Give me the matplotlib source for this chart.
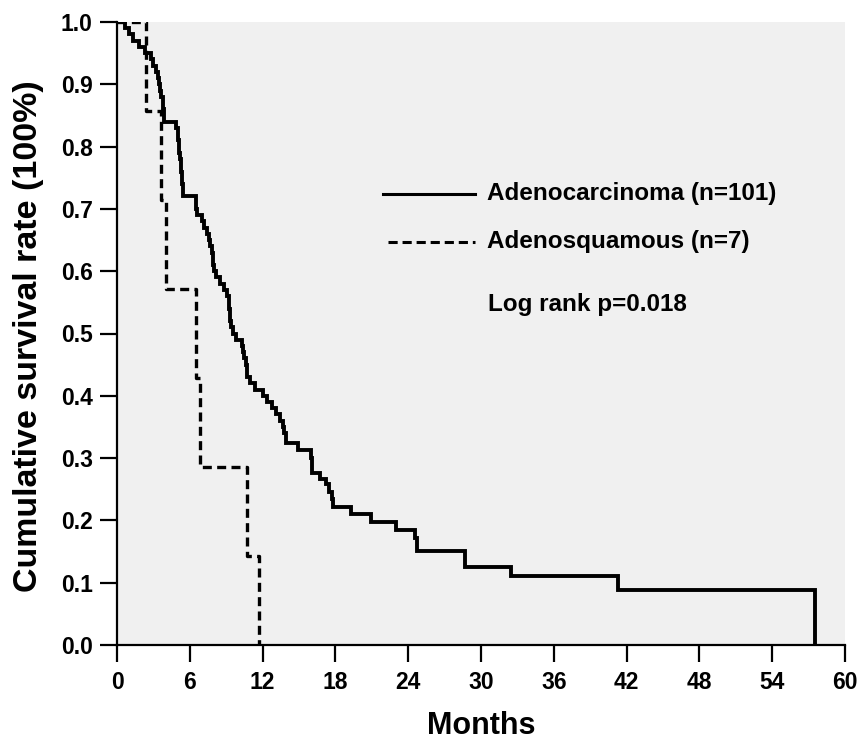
import matplotlib
matplotlib.use("Agg")
import matplotlib.pyplot as plt
import numpy as np

plt.rcParams["font.family"] = ["Liberation Sans", "DejaVu Sans"]
plt.rcParams["font.weight"] = "bold"

# Kaplan-Meier steps (months, survival after the event)
adeno_months = [0.7, 1.0, 1.3, 1.8, 2.3, 2.8, 3.0, 3.2, 3.35, 3.45, 3.55, 3.65,
                3.75, 3.8, 3.85, 3.9, 4.9, 5.0, 5.05, 5.1, 5.15, 5.2, 5.25, 5.3,
                5.33, 5.36, 5.4, 5.45, 6.5, 6.55, 6.6, 7.0, 7.2, 7.4, 7.6, 7.7,
                7.8, 7.9, 7.95, 8.0, 8.2, 8.5, 8.8, 9.1, 9.2, 9.25, 9.3, 9.35,
                9.4, 9.6, 9.8, 10.3, 10.4, 10.5, 10.6, 10.7, 10.75, 11.0, 11.4,
                12.0, 12.4, 12.8, 13.1, 13.4, 13.7, 13.8, 13.9, 14.9, 16.0, 16.05,
                16.1, 16.7, 17.2, 17.5, 17.7, 17.8, 19.3, 20.9, 23.0, 24.6, 24.7,
                28.7, 32.5, 41.3, 57.5]
adeno_surv = [0.99, 0.98, 0.97, 0.96, 0.95, 0.94, 0.93, 0.92, 0.91, 0.90, 0.89, 0.88,
              0.87, 0.86, 0.85, 0.84, 0.83, 0.82, 0.81, 0.80, 0.79, 0.78, 0.77, 0.76,
              0.75, 0.74, 0.73, 0.72, 0.71, 0.70, 0.69, 0.68, 0.67, 0.66, 0.65, 0.64,
              0.63, 0.62, 0.61, 0.60, 0.59, 0.58, 0.57, 0.56, 0.55, 0.54, 0.53, 0.52,
              0.51, 0.50, 0.49, 0.48, 0.47, 0.46, 0.45, 0.44, 0.43, 0.42, 0.41,
              0.40, 0.39, 0.38, 0.37, 0.36, 0.35, 0.34, 0.325, 0.313, 0.30, 0.29,
              0.276, 0.267, 0.258, 0.245, 0.235, 0.222, 0.211, 0.197, 0.185, 0.172, 0.151,
              0.126, 0.111, 0.089, 0.0]

squam_months = [2.4, 3.6, 4.0, 6.5, 6.8, 10.75, 11.7]
squam_surv = [6 / 7, 5 / 7, 4 / 7, 3 / 7, 2 / 7, 1 / 7, 0.0]

legend_labels = ["Adenocarcinoma (n=101)", "Adenosquamous (n=7)"]
stat_text = "Log rank p=0.018"
x_ticks = [0, 6, 12, 18, 24, 30, 36, 42, 48, 54, 60]
y_ticks = [0.0, 0.1, 0.2, 0.3, 0.4, 0.5, 0.6, 0.7, 0.8, 0.9, 1.0]

fig = plt.figure(figsize=(8.57, 7.42), dpi=100)
ax = fig.add_axes([117 / 857, 1 - 645 / 742, 728 / 857, 623 / 742])
ax.set_facecolor("#f0f0f0")

ax.step([0] + adeno_months, [1.0] + adeno_surv, where="post",
        color="black", lw=2.8, solid_joinstyle="miter")
ax.step([0] + squam_months, [1.0] + squam_surv, where="post",
        color="black", lw=2.4, linestyle=(0, (2.7, 1.6)))

ax.set_xlim(0, 60)
ax.set_ylim(0, 1.0)
ax.set_xticks(x_ticks)
ax.set_yticks(y_ticks)
ax.set_yticklabels([f"{v:.1f}" for v in y_ticks])

for side in ("top", "right"):
    ax.spines[side].set_visible(False)
for side in ("left", "bottom"):
    ax.spines[side].set_linewidth(1.6)
ax.tick_params(direction="out", length=12.5, width=1.6, labelsize=16.5)
ax.tick_params(axis="y", pad=5)
ax.tick_params(axis="x", pad=6)

fig.text(481 / 857, 1 - 734 / 742, "Months", ha="center", va="baseline",
         fontsize=22, fontweight="bold")
fig.text(29 / 857, 1 - 336 / 742, "Cumulative survival rate (100%)", ha="center",
         va="center", rotation=90, fontsize=24.5, fontweight="bold")

# hand-drawn legend, as in the original
ax.plot([0.365, 0.492], [0.724, 0.724], transform=ax.transAxes,
        color="black", lw=2.2)
ax.plot([0.372, 0.492], [0.647, 0.647], transform=ax.transAxes,
        color="black", lw=2.2, linestyle=(0, (3.0, 1.6)))
ax.text(0.508, 0.724, legend_labels[0], transform=ax.transAxes,
        va="center", ha="left", fontsize=17.5, fontweight="bold")
ax.text(0.508, 0.647, legend_labels[1], transform=ax.transAxes,
        va="center", ha="left", fontsize=17.5, fontweight="bold")
ax.text(0.510, 0.546, stat_text, transform=ax.transAxes,
        va="center", ha="left", fontsize=17.5, fontweight="bold")

fig.savefig("out.png", dpi=100)
